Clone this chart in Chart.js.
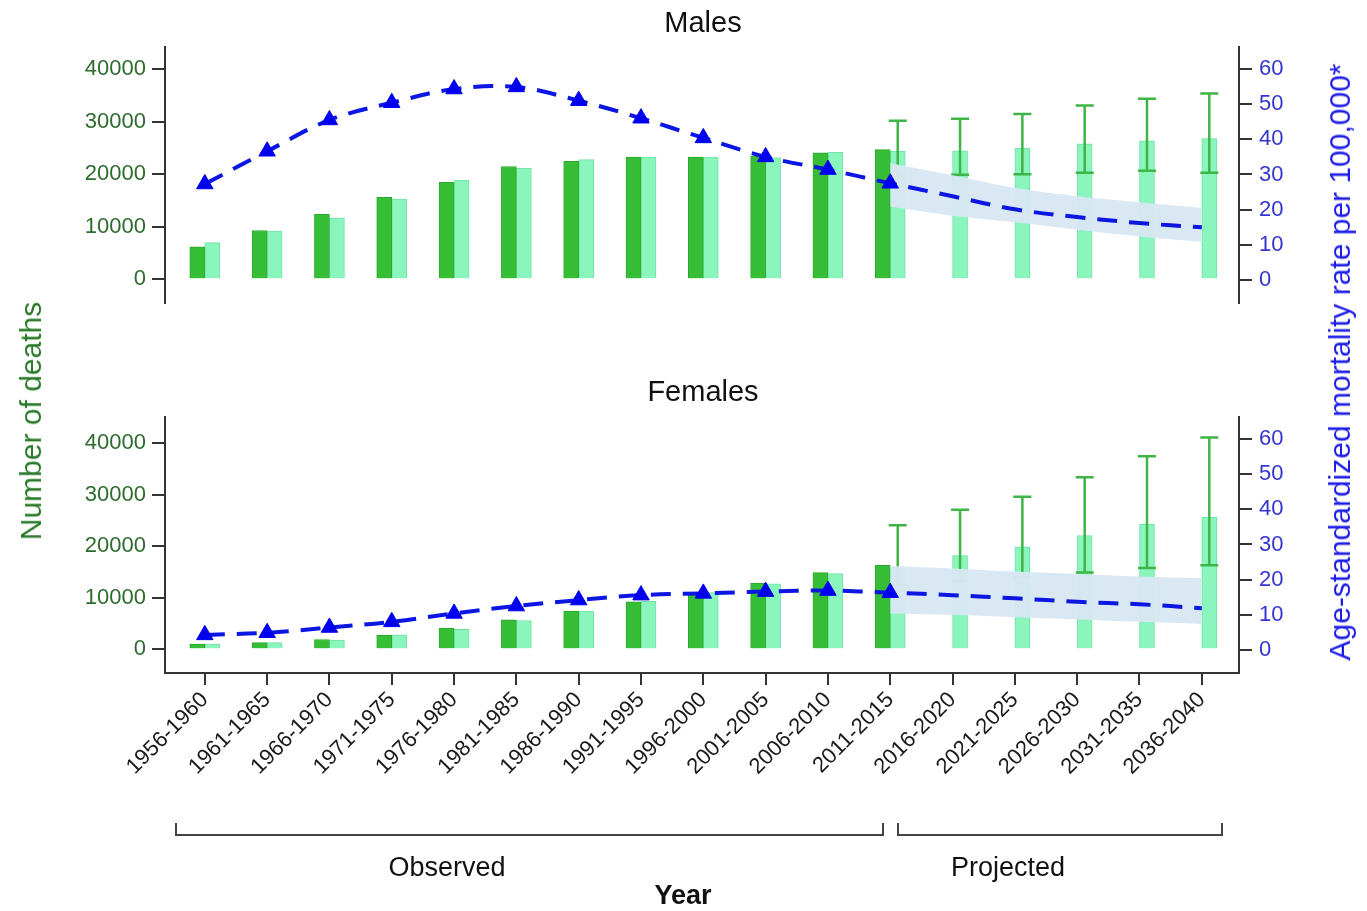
<!DOCTYPE html>
<html>
<head>
<meta charset="utf-8">
<script src="https://cdn.jsdelivr.net/npm/chart.js@4.4.1/dist/chart.umd.min.js"></script>
<style>
  html, body { margin: 0; padding: 0; background: #fff; }
  #page { position: relative; width: 1367px; height: 911px; overflow: hidden;
          font-family: 'Liberation Sans', Arial, sans-serif; background: #fff; }
  canvas { position: absolute; left: 0; top: 0; }
  .t { position: absolute; white-space: nowrap; transform: translate(-50%, -50%); color: #111; }
  .v { position: absolute; white-space: nowrap; transform: translate(-50%, -50%) rotate(-90deg); }
  .bracket { position: absolute; border: 2px solid #444; border-top: none; height: 13px; box-sizing: border-box; }
</style>
</head>
<body>
<div id="page">
  <canvas id="males" width="1367" height="911"></canvas>
  <canvas id="females" width="1367" height="911"></canvas>

  <div class="t" style="left:703px; top:22px; font-size:29px;">Males</div>
  <div class="t" style="left:703px; top:391px; font-size:29px;">Females</div>

  <div class="v" style="left:31px; top:421px; font-size:30px; color:#2a7a2a;">Number of deaths</div>
  <div class="v" style="left:1340px; top:362px; font-size:30px; color:#1c1ce6;">Age-standardized mortality rate per 100,000*</div>

  <div class="bracket" style="left:175px; top:823px; width:709px;"></div>
  <div class="bracket" style="left:897px; top:823px; width:326px;"></div>
  <div class="t" style="left:447px; top:867px; font-size:27px;">Observed</div>
  <div class="t" style="left:1008px; top:867px; font-size:27px;">Projected</div>
  <div class="t" style="left:683px; top:895px; font-size:27px; font-weight:bold;">Year</div>
</div>

<script>
// Five-year periods on the horizontal axis
const periods = ['1956-1960', '1961-1965', '1966-1970', '1971-1975', '1976-1980', '1981-1985',
  '1986-1990', '1991-1995', '1996-2000', '2001-2005', '2006-2010', '2011-2015',
  '2016-2020', '2021-2025', '2026-2030', '2031-2035', '2036-2040'];

// Males: observed deaths, modelled deaths and their prediction interval
const malesObserved = [6200, 9300, 12400, 15600, 18500, 21500, 22500, 23300, 23300, 23500, 24100, 24700,
  null, null, null, null, null];
const malesModel = [7000, 9200, 11700, 15300, 18900, 21200, 22800, 23300, 23300, 23200, 24200, 24400,
  24500, 25000, 25800, 26400, 26800];
const malesLower = [null, null, null, null, null, null, null, null, null, null, null, 19700,
  19900, 20000, 20300, 20700, 20300];
const malesUpper = [null, null, null, null, null, null, null, null, null, null, null, 30200,
  30600, 31500, 33100, 34400, 35400];
// Males: age-standardized rate per 100,000 and its projection band
const malesRate = [27.3, 36.6, 45.5, 50.4, 54.3, 54.9, 51.0, 46.0, 40.4, 35.0, 31.4, 27.5,
  23.8, 20.1, 17.9, 16.2, 15.0];
const malesRateLower = [null, null, null, null, null, null, null, null, null, null, null, 20.9,
  18.3, 16.4, 14.3, 12.4, 10.9];
const malesRateUpper = [null, null, null, null, null, null, null, null, null, null, null, 33.3,
  29.8, 26.2, 23.8, 22.1, 20.5];

// Females: observed deaths, modelled deaths and their prediction interval
const femalesObserved = [1000, 1300, 1900, 2700, 4100, 5700, 7400, 9200, 11000, 12800, 14900, 16300,
  null, null, null, null, null];
const femalesModel = [1000, 1300, 1800, 2800, 3900, 5600, 7400, 9300, 11000, 12700, 14700, 15800,
  18200, 19900, 22100, 24300, 25600];
const femalesLower = [null, null, null, null, null, null, null, null, null, null, null, 12500,
  13200, 14000, 14900, 15800, 16300];
const femalesUpper = [null, null, null, null, null, null, null, null, null, null, null, 24100,
  27100, 29600, 33400, 37500, 41100];
// Females: age-standardized rate per 100,000 and its projection band
const femalesRate = [4.3, 4.9, 6.4, 8.0, 10.4, 12.5, 14.2, 15.6, 16.1, 16.6, 16.9, 16.3,
  15.6, 14.7, 13.7, 13.0, 11.9];
const femalesRateLower = [null, null, null, null, null, null, null, null, null, null, null, 10.4,
  10.0, 9.3, 8.7, 8.0, 7.4];
const femalesRateUpper = [null, null, null, null, null, null, null, null, null, null, null, 23.9,
  23.2, 22.3, 21.6, 20.9, 20.4];

// Axis tick values
const deathTicks = [0, 10000, 20000, 30000, 40000];
const rateTicks = [0, 10, 20, 30, 40, 50, 60];

Chart.defaults.font.family = "'Liberation Sans', Arial, sans-serif";

// Interval whiskers on the modelled-deaths bars, drawn right after those bars
const errorBars = {
  id: 'errorBars',
  afterDatasetDraw(chart, args, opts) {
    if (args.index !== 1) return;
    const ys = chart.scales.y;
    const ctx = chart.ctx;
    ctx.save();
    ctx.strokeStyle = opts.color;
    ctx.lineWidth = 2.5;
    args.meta.data.forEach((bar, i) => {
      const lo = opts.lower[i], hi = opts.upper[i];
      if (lo == null || hi == null) return;
      const x = bar.x;
      const y1 = ys.getPixelForValue(lo), y2 = ys.getPixelForValue(hi);
      ctx.beginPath();
      ctx.moveTo(x, y1); ctx.lineTo(x, y2);
      ctx.moveTo(x - 9, y1); ctx.lineTo(x + 9, y1);
      ctx.moveTo(x - 9, y2); ctx.lineTo(x + 9, y2);
      ctx.stroke();
    });
    ctx.restore();
  }
};

const pts = arr => arr.map((v, i) => ({ x: i, y: v }));
const keepTicks = list => scale => {
  scale.ticks = list.map(v => ({ value: v }));
};

function panel(id, d, pad, yRange, y2Range, showX) {
  const axisColor = '#333';
  const xScale = {
    type: 'linear', display: showX, min: -0.639, max: 16.597, offset: false,
    grid: { display: true, offset: false, drawOnChartArea: false, drawTicks: true,
            tickLength: 12, color: axisColor, lineWidth: 2 },
    border: { display: true, color: axisColor, width: 2 },
    ticks: { autoSkip: false, minRotation: 45, maxRotation: 45, padding: 2,
             color: '#1a1a1a', font: { size: 22 },
             callback: v => periods[v] ?? '' },
    afterBuildTicks: keepTicks(periods.map((p, i) => i))
  };
  if (showX) xScale.afterFit = s => { s.height = 120; };

  return new Chart(document.getElementById(id), {
    type: 'bar',
    data: {
      datasets: [
        { type: 'bar', data: pts(d.observed), yAxisID: 'y', order: 4,
          backgroundColor: '#36be36', borderColor: '#2ca82c', borderWidth: 1, barThickness: 15 },
        { type: 'bar', data: pts(d.model), yAxisID: 'y', order: 5,
          backgroundColor: '#8af5bd', borderColor: '#72e3a4', borderWidth: 1, barThickness: 15 },
        { type: 'line', data: pts(d.rateUpper), yAxisID: 'y2', order: 3,
          borderColor: 'transparent', borderWidth: 0, pointRadius: 0, tension: 0.35,
          fill: '+1', backgroundColor: 'rgba(216,231,242,0.96)' },
        { type: 'line', data: pts(d.rateLower), yAxisID: 'y2', order: 3,
          borderColor: 'transparent', borderWidth: 0, pointRadius: 0, tension: 0.35, fill: false },
        { type: 'line', data: pts(d.rate), yAxisID: 'y2', order: 1,
          borderColor: '#0b16e2', borderWidth: 4, borderDash: [20, 12], tension: 0.35, fill: false,
          pointStyle: 'triangle', pointRadius: d.observed.map(v => v == null ? 0 : 9.5),
          pointBackgroundColor: '#0000ee', pointBorderColor: '#0000ee', pointBorderWidth: 1 }
      ]
    },
    options: {
      responsive: false,
      animation: false,
      devicePixelRatio: 1,
      layout: { padding: pad },
      plugins: {
        legend: { display: false },
        tooltip: { enabled: false },
        errorBars: { lower: d.lower, upper: d.upper, color: '#3fb545' }
      },
      scales: {
        x: xScale,
        y: {
          position: 'left', min: yRange[0], max: yRange[1],
          grid: { display: true, drawOnChartArea: false, drawTicks: true,
                  tickLength: 13, color: axisColor, lineWidth: 2 },
          border: { display: true, color: axisColor, width: 2 },
          ticks: { color: '#2e6b2e', font: { size: 22 }, padding: 6, callback: v => String(v) },
          afterBuildTicks: keepTicks(deathTicks),
          afterFit: s => { s.width = 165; }
        },
        y2: {
          position: 'right', min: y2Range[0], max: y2Range[1],
          grid: { display: true, drawOnChartArea: false, drawTicks: true,
                  tickLength: 13, color: axisColor, lineWidth: 2 },
          border: { display: true, color: axisColor, width: 2 },
          ticks: { color: '#3434cf', font: { size: 22 }, padding: 7, callback: v => String(v) },
          afterBuildTicks: keepTicks(rateTicks),
          afterFit: s => { s.width = 128; }
        }
      }
    },
    plugins: [errorBars]
  });
}

panel('males', {
  observed: malesObserved, model: malesModel, lower: malesLower, upper: malesUpper,
  rate: malesRate, rateLower: malesRateLower, rateUpper: malesRateUpper
}, { top: 47, bottom: 608, left: 0, right: 0 }, [-4500, 44250], [-6.54, 66.25], false);

panel('females', {
  observed: femalesObserved, model: femalesModel, lower: femalesLower, upper: femalesUpper,
  rate: femalesRate, rateLower: femalesRateLower, rateUpper: femalesRateUpper
}, { top: 417, bottom: 118, left: 0, right: 0 }, [-4600, 45100], [-6.54, 66.25], true);
</script>
</body>
</html>
